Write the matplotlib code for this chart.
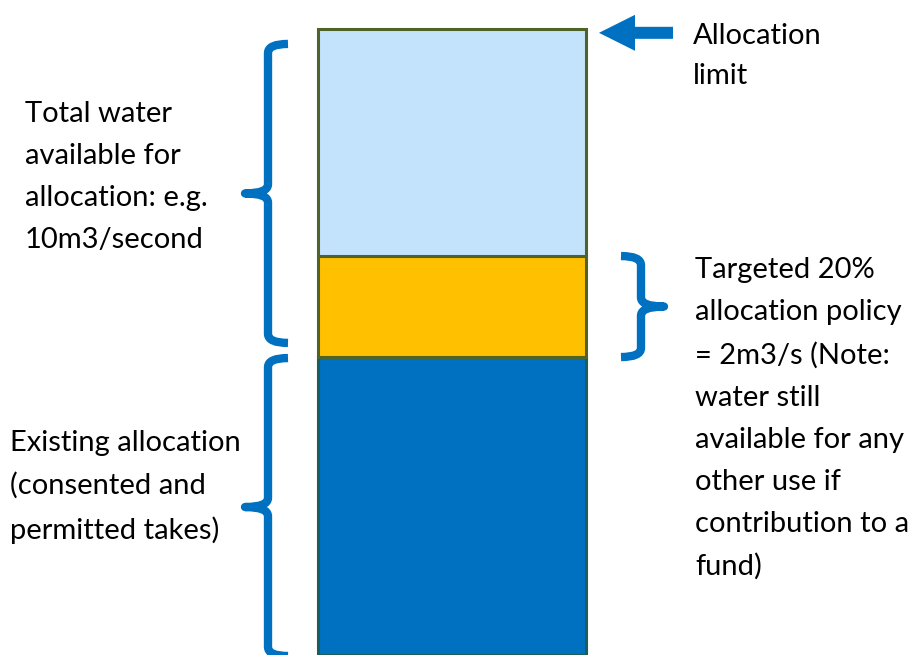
import numpy as np
import matplotlib.pyplot as plt
from matplotlib.path import Path
from matplotlib.patches import PathPatch, FancyArrow

plt.rcParams['font.family'] = ['Lato', 'DejaVu Sans']

# stacked column, bottom to top (m3/s, bottom segment is cut off by the frame)
segments = ['Existing allocation', 'Targeted 20% policy', 'Remaining available']
heights = [5.9, 2.0, 4.5]
face_colors = ['#0070C0', '#FFC000', '#C3E2FB']
edge_colors = ['#1E5E5A', '#4F6228', '#4F6228']

left_label = 'Total water\navailable for\nallocation: e.g.\n10m3/second'
existing_label = 'Existing allocation\n(consented and\npermitted takes)'
policy_label = ('Targeted 20%\nallocation policy\n= 2m3/s (Note:\nwater still\n'
                'available for any\nother use if\ncontribution to a\nfund)')
limit_label = 'Allocation\nlimit'

blue = '#0070C0'

fig = plt.figure(figsize=(9.15, 6.55), dpi=100)
ax = fig.add_axes([0, 0, 1, 1])
ax.set_xlim(0, 915)
ax.set_ylim(0, 12.97)
ax.axis('off')

bottoms = np.concatenate([[0], np.cumsum(heights)[:-1]])
for h, b, fc, ec in zip(heights, bottoms, face_colors, edge_colors):
    ax.bar(452, h, bottom=b, width=268, color=fc, edgecolor=ec, linewidth=2.2, zorder=2)

top = bottoms[-1] + heights[-1]
ppu = 655 / 12.97  # pixels per unit in y


def brace(x, y0, y1, side, arm=20, tip=23, r=0.18):
    # side=1: arms to the right, tip to the left; side=-1 mirrored
    s = side
    ym = (y0 + y1) / 2
    verts = [(x + s * arm, y1), (x, y1), (x, y1 - r),
             (x, ym + r), (x, ym), (x - s * tip, ym),
             (x, ym), (x, ym - r),
             (x, y0 + r), (x, y0), (x + s * arm, y0)]
    codes = [Path.MOVETO, Path.CURVE3, Path.CURVE3,
             Path.LINETO, Path.CURVE3, Path.CURVE3,
             Path.CURVE3, Path.CURVE3,
             Path.LINETO, Path.CURVE3, Path.CURVE3]
    ax.add_patch(PathPatch(Path(verts, codes), fill=False, edgecolor=blue,
                           linewidth=6, capstyle='butt', joinstyle='round', zorder=3))


brace(268, bottoms[1] + 0.28, top - 0.3, 1)
brace(268, -0.02, bottoms[1] - 0.02, 1)
brace(641, bottoms[1], bottoms[2], -1)

ax.add_patch(FancyArrow(673, top - 0.08, -74, 0, width=12 / ppu, head_width=36 / ppu,
                        head_length=36, length_includes_head=True, color=blue, lw=0))

# va='baseline' on multi-line text pins the last line's baseline
fs = 21
ls = 1.76
ax.text(25, 8.06, left_label, fontsize=fs, va='baseline', ha='left', linespacing=ls)
ax.text(10, 2.30, existing_label, fontsize=fs, va='baseline', ha='left', linespacing=ls)
ax.text(695, 1.58, policy_label, fontsize=fs, va='baseline', ha='left', linespacing=ls)
ax.text(693, 11.3, limit_label, fontsize=fs, va='baseline', ha='left', linespacing=ls * 0.95)

fig.savefig('out.png', dpi=100)
